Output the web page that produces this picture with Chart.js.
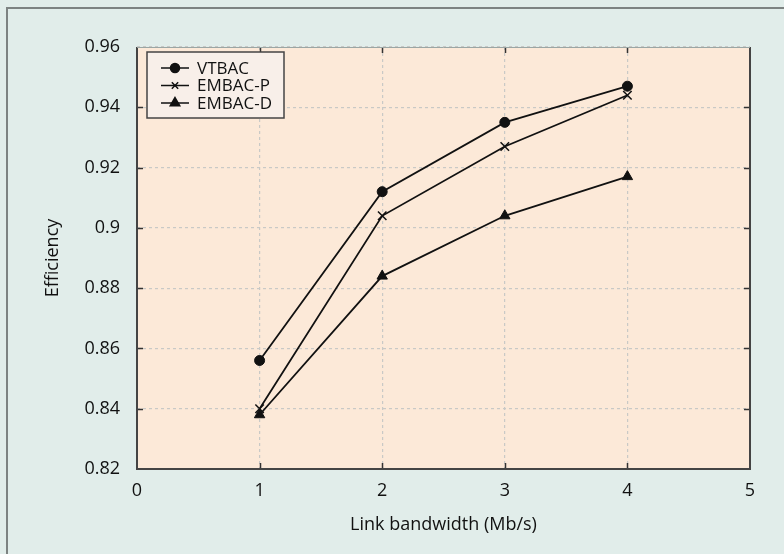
<!DOCTYPE html>
<html>
<head>
<meta charset="utf-8">
<script src="https://cdn.jsdelivr.net/npm/chart.js@4.4.0/dist/chart.umd.min.js"></script>
<style>
  html, body { margin: 0; padding: 0; background: #e1edea; }
  #wrap { position: relative; width: 784px; height: 554px; }
  #frame { position: absolute; left: 6px; top: 7px; right: 0; bottom: 0;
           border-left: 2px solid #7d8382; border-top: 2px solid #7d8382; }
  canvas { position: absolute; left: 0; top: 0; }
</style>
</head>
<body>
<div id="wrap">
  <div id="frame"></div>
  <canvas id="chart" width="784" height="554"></canvas>
</div>
<script>
const bandwidth = [1, 2, 3, 4];
const vtbac = [0.856, 0.912, 0.935, 0.947];
const embacP = [0.840, 0.904, 0.927, 0.944];
const embacD = [0.838, 0.884, 0.904, 0.917];
const seriesNames = ['VTBAC', 'EMBAC-P', 'EMBAC-D'];
const markers = ['circle', 'crossRot', 'triangle'];
const xTicks = [0, 1, 2, 3, 4, 5];
const yTicks = [0.82, 0.84, 0.86, 0.88, 0.9, 0.92, 0.94, 0.96];

const FONT = '"Open Sans", "Noto Sans", sans-serif';

function toPoints(values) {
    return bandwidth.map((x, i) => ({ x: x, y: values[i] }));
}

function makeDataset(label, values, marker) {
    return {
        label: label,
        data: toPoints(values),
        borderColor: '#111',
        backgroundColor: '#111',
        borderWidth: 1.8,
        pointStyle: marker,
        pointRadius: marker === 'triangle' ? 6 : (marker === 'crossRot' ? 6 : 5),
        pointBorderWidth: marker === 'crossRot' ? 1.5 : 1,
        pointBorderColor: '#111',
        pointBackgroundColor: '#111',
        tension: 0
    };
}

// plot background, inward ticks, frame and the boxed legend
const framePlugin = {
    id: 'framePlugin',
    beforeDraw(chart) {
        const { ctx, chartArea: a } = chart;
        ctx.save();
        ctx.fillStyle = '#fce9d8';
        ctx.fillRect(a.left, a.top, a.right - a.left, a.bottom - a.top);
        ctx.restore();
    },
    afterDraw(chart) {
        const { ctx, chartArea: a, scales } = chart;
        ctx.save();
        ctx.strokeStyle = '#333';
        ctx.lineWidth = 1.5;
        const len = 6;
        ctx.beginPath();
        xTicks.forEach(v => {
            const px = Math.round(scales.x.getPixelForValue(v)) + 0.5;
            if (v === 0 || v === 5) return;
            ctx.moveTo(px, a.bottom); ctx.lineTo(px, a.bottom - len);
            ctx.moveTo(px, a.top); ctx.lineTo(px, a.top + len);
        });
        yTicks.forEach(v => {
            const py = Math.round(scales.y.getPixelForValue(v)) + 0.5;
            if (v === 0.82 || v === 0.96) return;
            ctx.moveTo(a.left, py); ctx.lineTo(a.left + len, py);
            ctx.moveTo(a.right, py); ctx.lineTo(a.right - len, py);
        });
        ctx.stroke();

        // axes box: top edge lighter
        ctx.lineWidth = 2;
        ctx.strokeStyle = '#444';
        ctx.beginPath();
        ctx.moveTo(a.left, a.top);
        ctx.lineTo(a.left, a.bottom);
        ctx.lineTo(a.right, a.bottom);
        ctx.lineTo(a.right, a.top);
        ctx.stroke();
        ctx.strokeStyle = '#9aa6a4';
        ctx.lineWidth = 1;
        ctx.beginPath();
        ctx.moveTo(a.left, a.top + 0.5);
        ctx.lineTo(a.right, a.top + 0.5);
        ctx.stroke();

        // legend
        const lx = a.left + 10, ly = a.top + 5, lw = 137, lh = 66;
        ctx.fillStyle = '#f8efe9';
        ctx.fillRect(lx, ly, lw, lh);
        ctx.strokeStyle = '#444';
        ctx.lineWidth = 1.5;
        ctx.strokeRect(lx, ly, lw, lh);
        ctx.font = '17px ' + FONT;
        ctx.textBaseline = 'middle';
        chart.data.datasets.forEach((ds, i) => {
            const y = ly + 16 + i * 17.5;
            ctx.strokeStyle = '#111';
            ctx.fillStyle = '#111';
            ctx.lineWidth = 1.5;
            ctx.beginPath();
            ctx.moveTo(lx + 14, y);
            ctx.lineTo(lx + 42, y);
            ctx.stroke();
            Chart.helpers.drawPoint(ctx, {
                pointStyle: ds.pointStyle,
                radius: ds.pointStyle === 'triangle' ? 5.5 : 4.5,
                borderWidth: ds.pointStyle === 'crossRot' ? 1.3 : 1
            }, lx + 28, y);
            ctx.fillStyle = '#111';
            ctx.textAlign = 'left';
            ctx.fillText(seriesNames[i], lx + 50, y + 1);
        });
        ctx.restore();
    }
};

const chartCtx = document.getElementById('chart');
new Chart(chartCtx, {
    type: 'line',
    data: {
        datasets: [
            makeDataset(seriesNames[0], vtbac, markers[0]),
            makeDataset(seriesNames[1], embacP, markers[1]),
            makeDataset(seriesNames[2], embacD, markers[2])
        ]
    },
    options: {
        responsive: false,
        animation: false,
        layout: { padding: { left: 0, right: 34, top: 47, bottom: 0 } },
        plugins: {
            legend: { display: false },
            tooltip: { enabled: false }
        },
        scales: {
            x: {
                type: 'linear',
                min: 0,
                max: 5,
                afterBuildTicks: axis => { axis.ticks = xTicks.map(v => ({ value: v })); },
                afterFit: axis => { axis.height = 85; },
                grid: { color: '#c9c9c6', lineWidth: 1.2, drawTicks: false },
                border: { display: false, dash: [3, 3] },
                ticks: { color: '#111', font: { size: 18, family: FONT }, padding: 11, callback: v => String(v) },
                title: { display: true, text: 'Link bandwidth (Mb/s)', color: '#111', font: { size: 18, family: FONT }, padding: { top: 0, bottom: 18 } }
            },
            y: {
                type: 'linear',
                min: 0.82,
                max: 0.96,
                afterBuildTicks: axis => { axis.ticks = yTicks.map(v => ({ value: v })); },
                afterFit: axis => { axis.width = 137; },
                grid: { color: '#c9c9c6', lineWidth: 1.2, drawTicks: false },
                border: { display: false, dash: [3, 3] },
                ticks: { color: '#111', font: { size: 18, family: FONT }, padding: 17, callback: v => String(Math.round(v * 100) / 100) },
                title: { display: true, text: 'Efficiency', color: '#111', font: { size: 18, family: FONT }, padding: { top: 42, bottom: 0 } }
            }
        }
    },
    plugins: [framePlugin]
});
</script>
</body>
</html>
